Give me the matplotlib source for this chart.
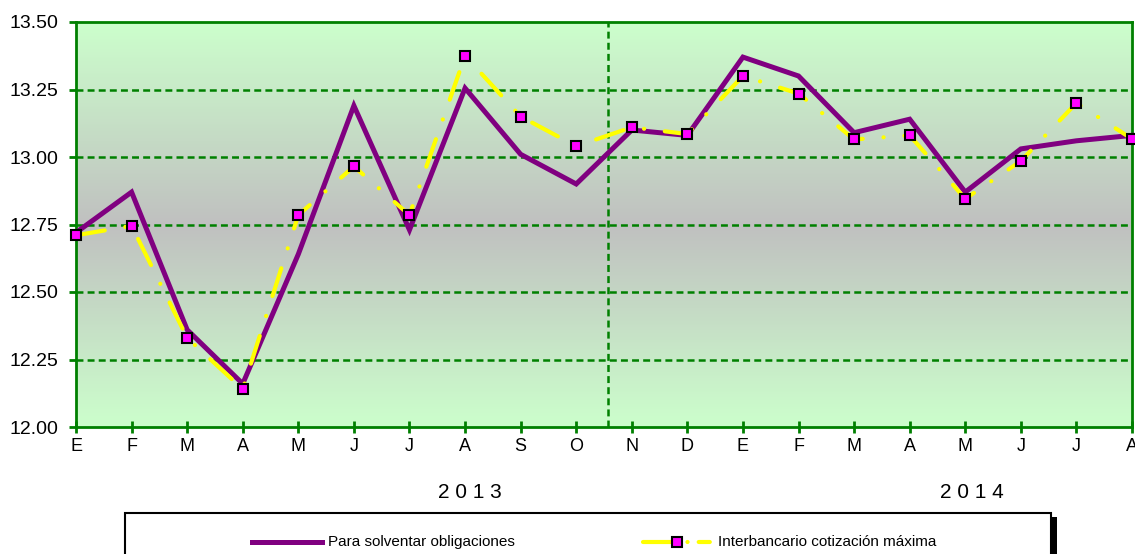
import matplotlib.pyplot as plt
import numpy as np
from matplotlib.lines import Line2D
from matplotlib.patches import Rectangle

plt.rcParams['font.family'] = ['Liberation Sans', 'DejaVu Sans']
plt.rcParams['lines.scale_dashes'] = False

# monthly series, Jan 2013 - Aug 2014
meses = ['E', 'F', 'M', 'A', 'M', 'J', 'J', 'A', 'S', 'O', 'N', 'D',
         'E', 'F', 'M', 'A', 'M', 'J', 'J', 'A']
solventar = [12.72, 12.87, 12.36, 12.16, 12.64, 13.19, 12.73, 13.255, 13.01, 12.90,
             13.10, 13.08, 13.37, 13.30, 13.09, 13.14, 12.87, 13.03, 13.06, 13.08]
interbancario = [12.71, 12.745, 12.33, 12.14, 12.785, 12.965, 12.785, 13.375, 13.15, 13.04,
                 13.11, 13.085, 13.30, 13.235, 13.065, 13.08, 12.845, 12.985, 13.20, 13.067]
y_ticks = [12.00, 12.25, 12.50, 12.75, 13.00, 13.25, 13.50]
anios = ['2 0 1 3', '2 0 1 4']

W, H = 1135, 554
verde = '#008000'
morado = '#800080'
amarillo = '#FFFF00'
dash_amarillo = (0, (21, 15, 0.1, 15))

fig = plt.figure(figsize=(W / 100, H / 100), dpi=100)
ax = fig.add_axes([76 / W, 1 - 427 / H, (1132 - 76) / W, (427 - 22) / H])

x = np.arange(len(meses))

# vertical background: light green at the edges, grey in the middle
t = np.abs(np.linspace(-1, 1, 256))[:, None]
verde_claro = np.array([204, 255, 204]) / 255
gris = np.array([192, 192, 192]) / 255
fondo = gris[None, None, :] * (1 - t[..., None]) + verde_claro[None, None, :] * t[..., None]
ax.imshow(fondo, extent=[0, len(meses) - 1, 12.0, 13.5], aspect='auto', zorder=0)

for yv in y_ticks[1:-1]:
    ax.axhline(yv, color=verde, lw=1.8, ls=(0, (5, 3)), zorder=1)
ax.axvline(9.57, color=verde, lw=1.8, ls=(0, (5, 3)), zorder=1)

ax.plot(x, solventar, color=morado, lw=3.6, zorder=3, clip_on=False,
        solid_joinstyle='miter')
ax.plot(x, interbancario, color=amarillo, lw=3.0, ls=dash_amarillo,
        dash_capstyle='round', marker='s', markersize=7, markerfacecolor='#FF00FF',
        markeredgecolor='black', markeredgewidth=1.5, zorder=4, clip_on=False)

ax.set_xlim(0, len(meses) - 1)
ax.set_ylim(12.0, 13.5)
ax.set_xticks(x)
ax.set_xticklabels(meses, fontsize=13)
ax.set_yticks(y_ticks)
ax.set_yticklabels(['%.2f' % v for v in y_ticks], fontsize=14)
ax.tick_params(axis='y', colors=verde, labelcolor='black', width=2, length=5,
               direction='out', pad=8)
ax.tick_params(axis='x', colors=verde, labelcolor='black', width=2, length=8,
               direction='inout', pad=4)
for s in ax.spines.values():
    s.set_color(verde)
    s.set_linewidth(2)

# year labels under the months
fig.text(470 / W, 1 - 492 / H, anios[0], fontsize=15, ha='center', va='center')
fig.text(972 / W, 1 - 492 / H, anios[1], fontsize=15, ha='center', va='center')


def fx(px):
    return px / W


def fy(py):
    return 1 - py / H


# legend box with a dark shadow on the right
fig.add_artist(Rectangle((fx(130), fy(575)), fx(1057) - fx(130), fy(517) - fy(575),
                         transform=fig.transFigure, facecolor='black', edgecolor='none'))
fig.add_artist(Rectangle((fx(125), fy(575)), fx(1051) - fx(125), fy(513) - fy(575),
                         transform=fig.transFigure, facecolor='white', edgecolor='black', lw=1.5))

ly = fy(542)
fig.add_artist(Line2D([fx(252), fx(322)], [ly, ly], color=morado, lw=3.6,
                      transform=fig.transFigure))
fig.text(fx(328), ly, 'Para solventar obligaciones', fontsize=11, va='center')
fig.add_artist(Line2D([fx(643), fx(712)], [ly, ly], color=amarillo, lw=3.0,
                      ls=(0, (24, 8, 0.1, 8, 8, 40)), dash_capstyle='round',
                      transform=fig.transFigure))
fig.add_artist(Line2D([fx(677)], [ly], marker='s', markersize=7, markerfacecolor='#FF00FF',
                      markeredgecolor='black', markeredgewidth=1.5, transform=fig.transFigure))
fig.text(fx(718), ly, 'Interbancario cotización máxima', fontsize=11, va='center')

fig.savefig('out.png', dpi=100)
